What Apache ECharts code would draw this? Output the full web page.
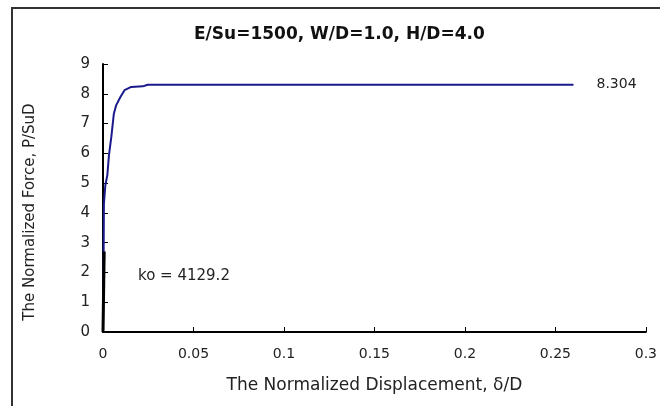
<!DOCTYPE html>
<html><head><meta charset="utf-8">
<script src="https://cdn.jsdelivr.net/npm/echarts@6/dist/echarts.min.js"></script>
<style>html,body{margin:0;padding:0;background:#fff}#c{width:660px;height:406px}</style>
</head><body><div id="c"></div>
<script>
const titleText = 'E/Su=1500, W/D=1.0, H/D=4.0';
const xName = 'The Normalized Displacement, \u03b4/D';
const yName = 'The Normalized Force, P/SuD';
const xTicks = [0, 0.05, 0.1, 0.15, 0.2, 0.25, 0.3];
const yTicks = [0,1,2,3,4,5,6,7,8,9];
// force-displacement curve (delta/D, P/SuD)
const curveX = [0, 0.0003, 0.0005, 0.0009, 0.0013, 0.0024, 0.0033, 0.0046, 0.0060, 0.0073, 0.0097, 0.0119, 0.0156, 0.0220, 0.0247, 0.0300, 0.2600];
const curveY = [0, 2.0, 4.30, 4.32, 4.93, 5.27, 5.94, 6.55, 7.33, 7.62, 7.90, 8.12, 8.23, 8.25, 8.304, 8.304, 8.304];
// initial stiffness line
const ko = 4129.2;
const koX = [0, 2.7 / 4129.2];
const koY = [0, 2.7];
const ultimate = 8.304;

const chart = echarts.init(document.getElementById('c'));
const font = '"DejaVu Sans", Verdana, sans-serif';
chart.setOption({
  animation: false,
  title: {text: titleText, left: 189, top: 21, textStyle: {fontFamily: font, fontSize: 17, fontWeight: 'bold', color: '#111'}},
  grid: {left: 103, right: 13, top: 64, bottom: 74},
  xAxis: {
    type: 'value', min: 0, max: 0.3, interval: 0.05,
    name: xName, nameLocation: 'middle', nameGap: 45,
    nameTextStyle: {fontFamily: font, fontSize: 17, color: '#222'},
    axisLine: {show: true, lineStyle: {color: '#000', width: 2}},
    axisTick: {show: true, inside: true, length: 5, lineStyle: {color: '#000', width: 1}},
    axisLabel: {fontFamily: font, fontSize: 14, color: '#222', margin: 15, formatter: v => String(+v.toFixed(2))},
    splitLine: {show: false}
  },
  yAxis: {
    type: 'value', min: 0, max: 9, interval: 1,
    axisLine: {show: true, lineStyle: {color: '#000', width: 2}},
    axisTick: {show: true, inside: true, length: 5, lineStyle: {color: '#000', width: 1}},
    axisLabel: {fontFamily: font, fontSize: 15, color: '#222', margin: 13},
    splitLine: {show: false}
  },
  graphic: [
    {type: 'rect', shape: {x: 12, y: 8, width: 700, height: 450}, style: {fill: 'none', stroke: '#333', lineWidth: 2}, silent: true},
    {type: 'text', x: 30, y: 212, rotation: Math.PI / 2, style: {text: yName, font: '15px ' + font, fill: '#222', align: 'center', verticalAlign: 'middle'}},
    {type: 'text', left: 138, top: 269, style: {text: 'ko = ' + ko, font: '15px ' + font, fill: '#222'}}
  ],
  series: [
    {type: 'line', data: curveX.map((x, i) => [x, curveY[i]]), showSymbol: false, symbol: 'none',
     lineStyle: {color: '#1a1a8c', width: 2},
     endLabel: {show: true, formatter: () => String(ultimate), distance: 23, fontFamily: font, fontSize: 14, color: '#222'}},
    {type: 'line', data: koX.map((x, i) => [x, koY[i]]), showSymbol: false, symbol: 'none',
     lineStyle: {color: '#000', width: 3}}
  ]
});
</script></body></html>
